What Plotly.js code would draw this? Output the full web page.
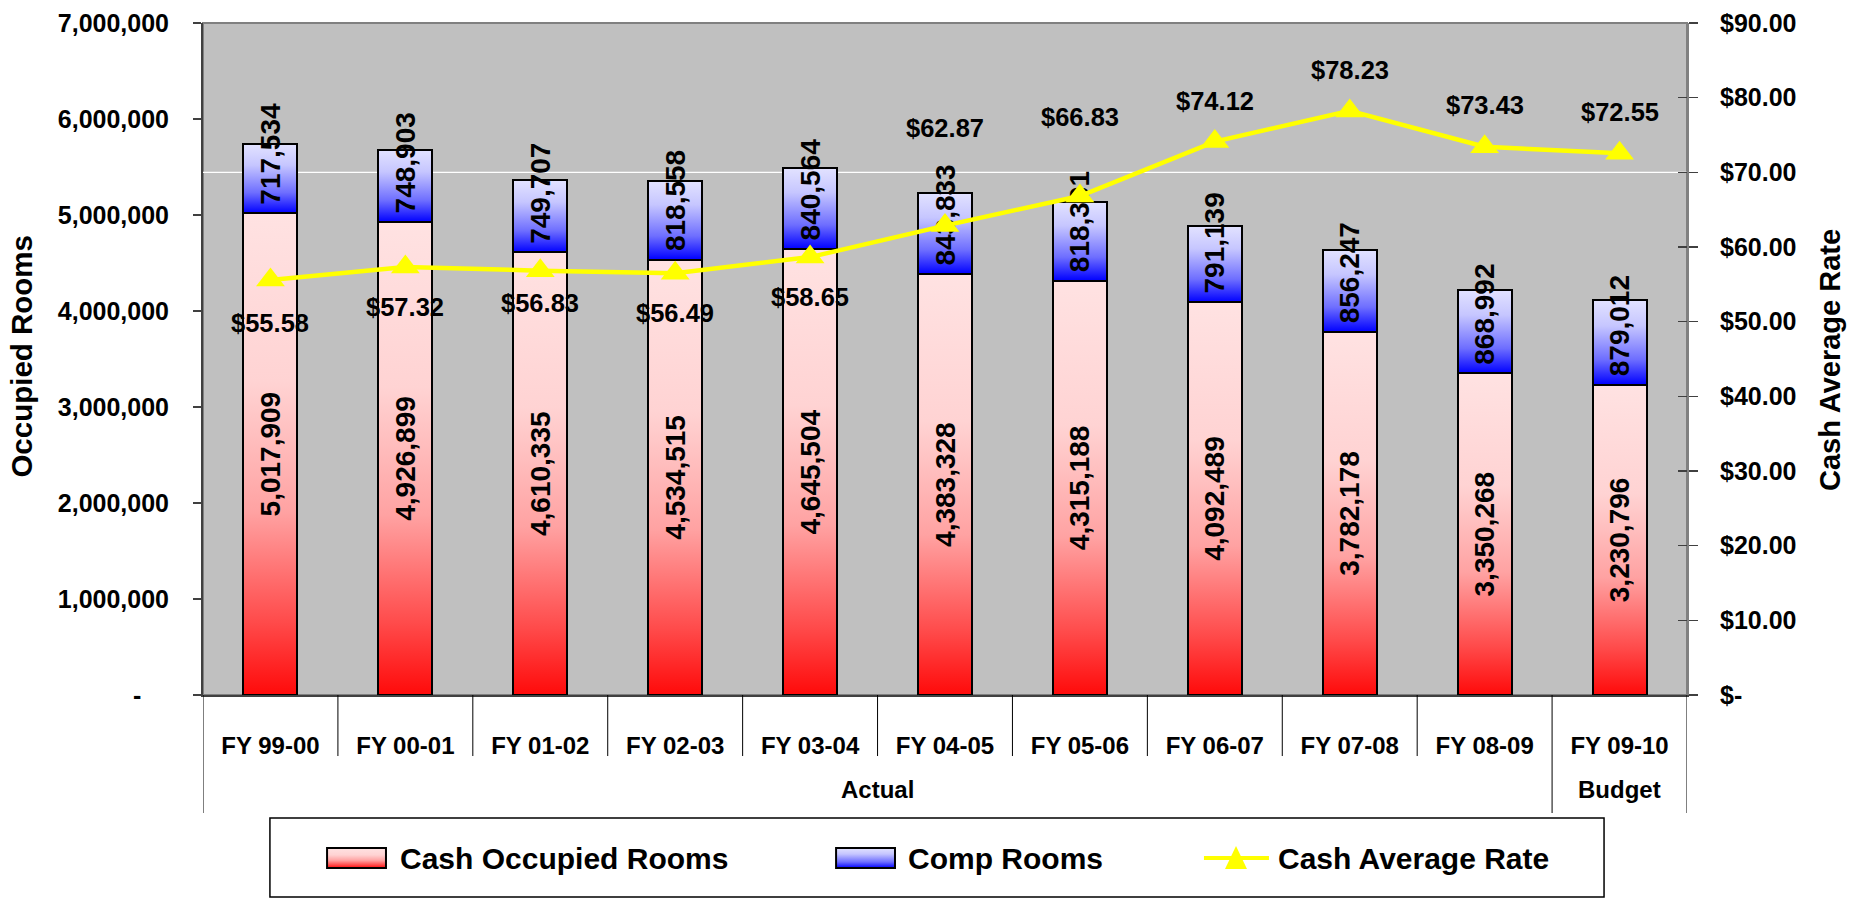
<!DOCTYPE html>
<html>
<head>
<meta charset="utf-8">
<script src="https://cdn.plot.ly/plotly-3.0.1.min.js"></script>
<style>
  html, body { margin: 0; padding: 0; background: #ffffff; }
  #chart { width: 1864px; height: 899px; }
</style>
</head>
<body>
<div id="chart"></div>
<script>
// ---------------- DATA ----------------
const categories = ['FY 99-00', 'FY 00-01', 'FY 01-02', 'FY 02-03', 'FY 03-04', 'FY 04-05',
                    'FY 05-06', 'FY 06-07', 'FY 07-08', 'FY 08-09', 'FY 09-10'];
const categoryGroups = ['Actual', 'Actual', 'Actual', 'Actual', 'Actual', 'Actual',
                        'Actual', 'Actual', 'Actual', 'Actual', 'Budget'];
const cashOccupiedRooms = [5017909, 4926899, 4610335, 4534515, 4645504, 4383328,
                           4315188, 4092489, 3782178, 3350268, 3230796];
const compRooms = [717534, 748903, 749707, 818558, 840564, 843833,
                   818301, 791139, 856247, 868992, 879012];
const cashAverageRate = [55.58, 57.32, 56.83, 56.49, 58.65, 62.87,
                         66.83, 74.12, 78.23, 73.43, 72.55];

const leftTickVals = [0, 1000000, 2000000, 3000000, 4000000, 5000000, 6000000, 7000000];
const leftTickText = ['-\u00A0\u00A0\u00A0\u00A0', '1,000,000', '2,000,000', '3,000,000',
                      '4,000,000', '5,000,000', '6,000,000', '7,000,000'];
const rightTickVals = [0, 10, 20, 30, 40, 50, 60, 70, 80, 90];
const rightTickText = ['$-', '$10.00', '$20.00', '$30.00', '$40.00', '$50.00',
                       '$60.00', '$70.00', '$80.00', '$90.00'];

const seriesNames = ['Cash Occupied Rooms', 'Comp Rooms', 'Cash Average Rate'];
const axisTitles = { left: 'Occupied Rooms', right: 'Cash Average Rate' };

// label placement (pixels, positive = below the point)
const rateLabelOffsetPx = [43, 40, 32, 40, 40, -98, -79, -41, -41, -42, -41];

// ---------------- STYLE ----------------
const FONT = 'Liberation Sans, Arial, Helvetica, sans-serif';
const bold = (size) => ({ family: FONT, size: size, color: '#000000', weight: 700 });

// ---------------- TRACES ----------------
const cashTrace = {
  type: 'bar', name: seriesNames[0], x: categories, y: cashOccupiedRooms,
  marker: { color: 'rgb(255, 150, 150)', line: { color: '#000000', width: 2 } },
  texttemplate: '%{y:,}', textposition: 'inside', insidetextanchor: 'middle',
  textangle: -90, constraintext: 'none', textfont: bold(28),
  hoverinfo: 'skip', showlegend: false
};
const compTrace = {
  type: 'bar', name: seriesNames[1], x: categories, y: compRooms,
  marker: { color: 'rgb(140, 140, 255)', line: { color: '#000000', width: 2 } },
  texttemplate: '\u2009%{y:,}', textposition: 'inside', insidetextanchor: 'start',
  textangle: -90, constraintext: 'none', textfont: bold(28),
  hoverinfo: 'skip', showlegend: false
};
const rateTrace = {
  type: 'scatter', mode: 'lines+markers', name: seriesNames[2],
  x: categories, y: cashAverageRate, yaxis: 'y2',
  line: { color: '#FFFF00', width: 4.5 },
  marker: { symbol: 'triangle-up', size: 25, color: '#FFFF00' },
  hoverinfo: 'skip', showlegend: false, cliponaxis: false
};

// ---------------- ANNOTATIONS ----------------
const annotations = [];
cashAverageRate.forEach((v, i) => {
  annotations.push({
    x: categories[i], y: v, xref: 'x', yref: 'y2',
    text: '$' + v.toFixed(2), showarrow: false,
    xanchor: 'center', yanchor: 'middle', yshift: -rateLabelOffsetPx[i],
    font: bold(25.5)
  });
});

// group labels
const groupSpans = [];
categoryGroups.forEach((g, i) => {
  const last = groupSpans[groupSpans.length - 1];
  if (last && last.name === g) last.end = i; else groupSpans.push({ name: g, start: i, end: i });
});
groupSpans.forEach(s => {
  annotations.push({
    x: (s.start + s.end) / 2, y: -0.141, xref: 'x', yref: 'paper',
    text: s.name, showarrow: false, xanchor: 'center', yanchor: 'middle',
    font: bold(24)
  });
});

// axis titles
annotations.push({
  x: -0.122, y: 0.505, xref: 'paper', yref: 'paper', text: axisTitles.left,
  textangle: -90, showarrow: false, xanchor: 'center', yanchor: 'middle', font: bold(29.5)
});
annotations.push({
  x: 1.0964, y: 0.4985, xref: 'paper', yref: 'paper', text: axisTitles.right,
  textangle: -90, showarrow: false, xanchor: 'center', yanchor: 'middle', font: bold(29)
});

// legend texts
const legendY = -0.2426;
annotations.push({ x: 0.1314, y: legendY, xref: 'paper', yref: 'paper', text: seriesNames[0],
  showarrow: false, xanchor: 'left', yanchor: 'middle', font: bold(30) });
annotations.push({ x: 0.4737, y: legendY, xref: 'paper', yref: 'paper', text: seriesNames[1],
  showarrow: false, xanchor: 'left', yanchor: 'middle', font: bold(30) });
annotations.push({ x: 0.7231, y: legendY, xref: 'paper', yref: 'paper', text: seriesNames[2],
  showarrow: false, xanchor: 'left', yanchor: 'middle', font: bold(30) });

// ---------------- SHAPES ----------------
const shapes = [];
// plot frame
shapes.push({ type: 'rect', xref: 'x domain', yref: 'y domain', x0: 0, x1: 1, y0: 0, y1: 1,
  line: { color: '#808080', width: 2 }, fillcolor: 'rgba(0,0,0,0)', layer: 'below' });
// white gridline at $70
shapes.push({ type: 'line', xref: 'x domain', yref: 'y2', x0: 0, x1: 1,
  y0: rightTickVals[7], y1: rightTickVals[7], line: { color: '#ffffff', width: 1.2 }, layer: 'below' });
// category dividers
for (let i = 0; i <= categories.length; i++) {
  const isGroupEdge = (i === 0 || i === categories.length || categoryGroups[i] !== categoryGroups[i - 1]);
  shapes.push({ type: 'line', xref: 'x', yref: 'paper', x0: i - 0.5, x1: i - 0.5,
    y0: 0, y1: isGroupEdge ? -0.1756 : -0.0908,
    line: { color: '#000000', width: 1 }, layer: 'above' });
}
// legend box
shapes.push({ type: 'rect', xref: 'paper', yref: 'paper', x0: 0.0451, x1: 0.9441, y0: -0.3006, y1: -0.1830,
  line: { color: '#000000', width: 1.5 }, fillcolor: '#ffffff', layer: 'above' });
// legend swatches
const swatchCashIndex = shapes.length;
shapes.push({ type: 'rect', xref: 'paper', yref: 'paper', x0: 0.0836, x1: 0.1233, y0: -0.2574, y1: -0.2277,
  line: { color: '#000000', width: 2 }, fillcolor: 'rgb(255, 150, 150)', layer: 'above' });
const swatchCompIndex = shapes.length;
shapes.push({ type: 'rect', xref: 'paper', yref: 'paper', x0: 0.4266, x1: 0.4663, y0: -0.2574, y1: -0.2277,
  line: { color: '#000000', width: 2 }, fillcolor: 'rgb(140, 140, 255)', layer: 'above' });
// legend line + triangle
shapes.push({ type: 'line', xref: 'paper', yref: 'paper', x0: 0.6745, x1: 0.7183, y0: legendY, y1: legendY,
  line: { color: '#FFFF00', width: 4 }, layer: 'above' });
shapes.push({ type: 'path', xref: 'paper', yref: 'paper',
  path: 'M0.6887,-0.2589 L0.7035,-0.2589 L0.6961,-0.2247 Z',
  line: { color: '#FFFF00', width: 0 }, fillcolor: '#FFFF00', layer: 'above' });

// ---------------- LAYOUT ----------------
const layout = {
  width: 1864, height: 899,
  margin: { l: 203, r: 177, t: 23, b: 204, pad: 0 },
  paper_bgcolor: '#ffffff', plot_bgcolor: '#C0C0C0',
  barmode: 'stack', bargap: 0.6,
  showlegend: false,
  font: { family: FONT, color: '#000000' },
  xaxis: {
    type: 'category', range: [-0.5, categories.length - 0.5],
    showgrid: false, zeroline: false, ticks: '',
    showline: true, linecolor: '#404040', linewidth: 2,
    tickfont: bold(24), ticklabelstandoff: 28, fixedrange: true
  },
  yaxis: {
    range: [0, 7000000], tickvals: leftTickVals, ticktext: leftTickText,
    showgrid: false, zeroline: false, showline: true, linecolor: '#404040', linewidth: 2,
    ticks: 'outside', ticklen: 8, tickwidth: 1.5, tickcolor: '#404040',
    tickfont: bold(25), ticklabelstandoff: 19, fixedrange: true
  },
  yaxis2: {
    overlaying: 'y', side: 'right', anchor: 'x',
    range: [0, 90], tickvals: rightTickVals, ticktext: rightTickText,
    showgrid: false, zeroline: false, showline: true, linecolor: '#808080', linewidth: 2,
    ticks: 'outside', ticklen: 9, tickwidth: 1.5, tickcolor: '#404040',
    tickfont: bold(25), ticklabelstandoff: 17, fixedrange: true
  },
  yaxis3: {
    overlaying: 'y', side: 'right', anchor: 'x',
    range: [0, 90], tickvals: rightTickVals, showticklabels: false,
    showgrid: false, zeroline: false, showline: false,
    ticks: 'inside', ticklen: 9, tickwidth: 1.5, tickcolor: '#404040', fixedrange: true
  },
  shapes: shapes,
  annotations: annotations
};

// dummy trace for inside ticks axis
const tickTrace = { type: 'scatter', x: [categories[0]], y: [null], yaxis: 'y3',
  mode: 'markers', hoverinfo: 'skip', showlegend: false };

// ---------------- GRADIENTS ----------------
const NS = 'http://www.w3.org/2000/svg';
function ensureGradient(defs, id, stops) {
  if (defs.querySelector('#' + id)) return;
  const g = document.createElementNS(NS, 'linearGradient');
  g.setAttribute('id', id);
  g.setAttribute('x1', '0'); g.setAttribute('y1', '0');
  g.setAttribute('x2', '0'); g.setAttribute('y2', '1');
  stops.forEach(([o, c]) => {
    const s = document.createElementNS(NS, 'stop');
    s.setAttribute('offset', o); s.setAttribute('stop-color', c);
    g.appendChild(s);
  });
  defs.appendChild(g);
}
function applyGradients(gd) {
  const svg = gd.querySelector('svg.main-svg');
  if (!svg) return;
  let defs = svg.querySelector('defs');
  if (!defs) { defs = document.createElementNS(NS, 'defs'); svg.insertBefore(defs, svg.firstChild); }
  ensureGradient(defs, 'gradCash', [['0', '#FFE2E2'], ['0.35', '#FFD3D3'], ['0.62', '#FFA2A2'],
                                    ['0.85', '#FF4A4A'], ['1', '#FF0A0A']]);
  ensureGradient(defs, 'gradComp', [['0', '#E2E2FF'], ['0.3', '#C6C6FF'], ['0.7', '#6E6EFF'],
                                    ['1', '#0000FF']]);
  const barTraces = gd.querySelectorAll('.barlayer .trace.bars');
  if (barTraces[0]) barTraces[0].querySelectorAll('.point path').forEach(p => { p.style.fill = 'url(#gradCash)'; });
  if (barTraces[1]) barTraces[1].querySelectorAll('.point path').forEach(p => { p.style.fill = 'url(#gradComp)'; });
  gd.querySelectorAll('.shapelayer path').forEach(p => {
    const idx = p.getAttribute('data-index');
    if (idx === String(swatchCashIndex)) p.style.fill = 'url(#gradCash)';
    if (idx === String(swatchCompIndex)) p.style.fill = 'url(#gradComp)';
  });
}

const gd = document.getElementById('chart');
Plotly.newPlot(gd, [cashTrace, compTrace, rateTrace, tickTrace], layout,
  { displayModeBar: false, staticPlot: true, responsive: false })
  .then(() => {
    applyGradients(gd);
    gd.on('plotly_afterplot', () => applyGradients(gd));
  });
</script>
</body>
</html>
